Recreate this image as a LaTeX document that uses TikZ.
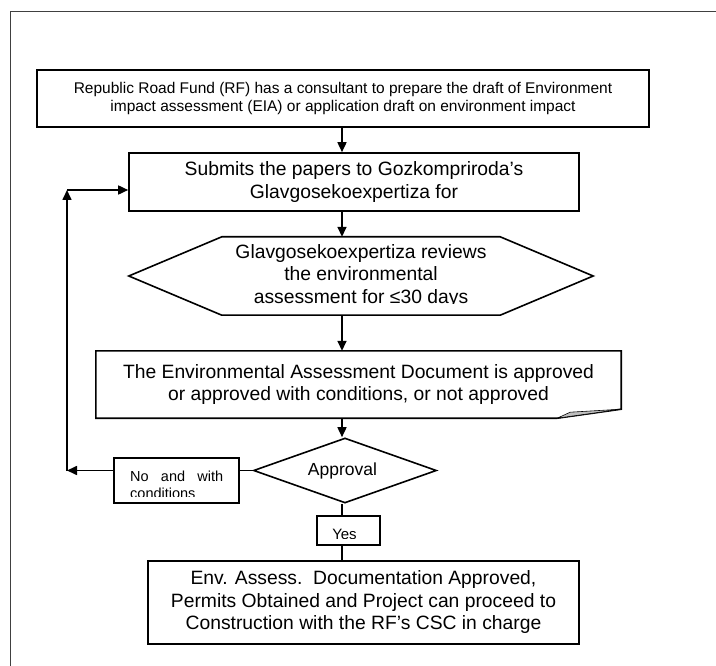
\documentclass[tikz,border=0pt]{standalone}
\usepackage{fontspec}
\setmainfont{Liberation Sans}
\usetikzlibrary{calc, positioning, shapes, arrows.meta}
\def\spinex{342}
\newcommand{\smalltext}{\fontsize{15.5pt}{18pt}\selectfont}
\newcommand{\bigtext}{\fontsize{19.3pt}{22.5pt}\selectfont}
\newcommand{\labeltext}{\fontsize{14.5pt}{17pt}\selectfont}
\tikzstyle{frame}=[line width=1pt, black!75]
\tikzstyle{flowbox}=[draw, rectangle, line width=1.6pt, align=center, inner sep=0pt]
\tikzstyle{plainnode}=[align=center, inner sep=0pt]
\tikzstyle{flow}=[line width=1.6pt]
\tikzstyle{decision}=[draw, diamond, line width=1.6pt, inner sep=0pt]

\begin{document}
\begin{tikzpicture}[x=1pt, y=-1pt, >={Triangle[length=10pt,width=9pt]}]
        \useasboundingbox (0,0) rectangle (716,666);
        \draw[frame] (10,666) -- (10,12) -- (716,12);
        \coordinate (spine) at (\spinex,0);

        \node[flowbox, minimum width=612pt, minimum height=57pt, font=\smalltext] (draft) at (343,98.5)
            {Republic Road Fund (RF) has a consultant to prepare the draft of Environment\\impact assessment (EIA) or application draft on environment impact};
        \node[flowbox, minimum width=450pt, minimum height=58pt, font=\bigtext] (submit) at (354,182)
            {Submits the papers to Gozkompriroda’s\\Glavgosekoexpertiza for};

        % review step, hexagon drawn round the text node
        \begin{scope}
            \clip (0,0) rectangle (716,304);
            \node[plainnode, minimum width=278pt, minimum height=78pt, font=\bigtext] (review) at (361,276)
                {Glavgosekoexpertiza reviews\\the environmental\\assessment for ≤30 days};
        \end{scope}
        \draw[flow] ([xshift=-93pt]review.west) -- (review.north west) -- (review.north east)
            -- ([xshift=93pt]review.east) -- (review.south east) -- (review.south west) -- cycle;

        % document shape with folded corner
        \node[plainnode, minimum width=525pt, minimum height=67pt, font=\bigtext] (verdict) at (358.5,384.5)
            {The Environmental Assessment Document is approved\\or approved with conditions, or not approved};
        \draw[flow] ([xshift=-64pt]verdict.south east) -- (verdict.south west) -- (verdict.north west)
            -- (verdict.north east) -- ([yshift=9pt]verdict.south east) -- cycle;
        \draw[fill=black!25, line width=0.6pt] ([xshift=-64pt]verdict.south east) -- ([xshift=-51pt,yshift=6pt]verdict.south east)
            -- ([yshift=9pt]verdict.south east) -- cycle;

        \node[decision, minimum width=183pt, minimum height=65pt] (approval) at (345,470.5) {};
        \node[plainnode, anchor=base, font=\fontsize{17.5pt}{20pt}\selectfont] (approvaltext) at (342.5,475) {Approval};

        \node[flowbox, minimum width=125pt, minimum height=45pt] (nobox) at (176.5,480.5) {};
        \begin{scope}
            \clip ([xshift=1pt,yshift=7pt]nobox.south west) rectangle ([xshift=-1pt,yshift=-1pt]nobox.north east);
            \node[plainnode, anchor=base west, text width=93pt, align=left, font=\labeltext] (nolabel) at (130,481)
                {No\hfill and\hfill with\\conditions};
        \end{scope}

        \node[flowbox, minimum width=63pt, minimum height=29pt] (yes) at (348.5,530.5) {};
        \begin{scope}
            \clip ([yshift=7pt]yes.south west) rectangle (yes.north east);
            \node[plainnode, anchor=base, font=\fontsize{15pt}{17pt}\selectfont] (yeslabel) at (344.5,539) {Yes};
        \end{scope}

        \node[flowbox, minimum width=431pt, minimum height=83pt, font=\bigtext] (done) at (363.5,602.5)
            {Env. Assess.\ \ Documentation Approved,\\Permits Obtained and Project can proceed to\\Construction with the RF’s CSC in charge};

        % connectors
        \coordinate (loopbot) at (67,470.5);
        \coordinate (looptop) at (67,190);
        \draw[flow, ->] (spine |- draft.south) -- (spine |- submit.north);
        \draw[flow, ->] (spine |- submit.south) -- (spine |- review.north);
        \draw[flow, ->] (spine |- review.south) -- (spine |- verdict.north);
        \draw[flow, ->] (spine |- verdict.south) -- (spine |- approval.north);
        \draw[flow] (approval.west) -- (approval.west -| nobox.east);
        \draw[flow, ->] (approval.west -| nobox.west) -- (loopbot);
        \draw[flow, ->] (loopbot) -- (looptop);
        \draw[flow, ->] (looptop) -- (looptop -| submit.west);
        \draw[flow] (spine |- approval.south) -- (spine |- yes.north);
        \draw[flow] (spine |- yes.south) -- (spine |- done.north);
\end{tikzpicture}
\end{document}
